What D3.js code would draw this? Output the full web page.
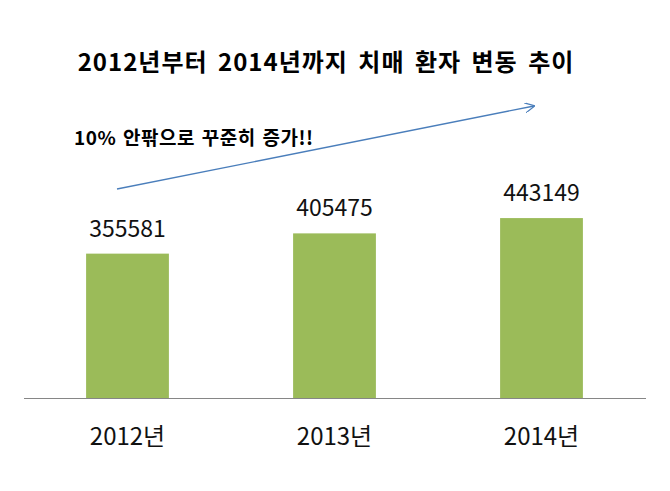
<!DOCTYPE html>
<html>
<head>
<meta charset="utf-8">
<script src="https://cdn.jsdelivr.net/npm/d3@7"></script>
<style>
  body { margin: 0; background: #fff; }
  text { font-family: "Noto Sans CJK KR", "Noto Sans", sans-serif; }
</style>
</head>
<body>
<script>
  // data
  const years = ["2012년", "2013년", "2014년"];
  const patients = [355581, 405475, 443149];
  const title = "2012년부터 2014년까지 치매 환자 변동 추이";
  const note = "10% 안팎으로 꾸준히 증가!!";

  const W = 670, H = 491;
  const svg = d3.select("body").append("svg").attr("width", W).attr("height", H);

  const x = d3.scaleBand().domain(years).range([24, 645])
      .paddingInner(0.6).paddingOuter(0.3);
  const y = d3.scaleLinear().domain([0, 500000]).range([398, 195]);

  // title
  svg.append("text")
      .attr("x", 326).attr("y", 71)
      .attr("text-anchor", "middle")
      .style("font-size", "24px").style("font-weight", "bold")
      .style("letter-spacing", "1px").style("word-spacing", "4px")
      .text(title);

  // bars
  svg.selectAll("rect.bar")
    .data(years)
    .enter().append("rect")
      .attr("class", "bar")
      .attr("x", d => x(d))
      .attr("width", x.bandwidth())
      .attr("y", (d, i) => y(patients[i]))
      .attr("height", (d, i) => y(0) - y(patients[i]))
      .style("fill", "#9BBB59");

  // value labels
  svg.selectAll("text.val")
    .data(years)
    .enter().append("text")
      .attr("class", "val")
      .attr("x", d => x(d) + x.bandwidth() / 2)
      .attr("y", (d, i) => y(patients[i]) - 17)
      .attr("text-anchor", "middle")
      .style("font-size", "23px")
      .style("fill", "#111")
      .text((d, i) => patients[i]);

  // x axis
  const xAxis = svg.append("g")
      .attr("transform", "translate(0," + y(0) + ")")
      .call(d3.axisBottom(x).tickSize(0).tickPadding(30));
  xAxis.select(".domain").attr("d", "M24,0.5H646").style("stroke", "#868686");
  xAxis.selectAll(".tick text")
      .style("font-size", "24px")
      .style("font-family", "\"Noto Sans CJK KR\", sans-serif")
      .style("fill", "#111");

  // trend arrow + note
  svg.append("defs").append("marker")
      .attr("id", "head")
      .attr("viewBox", "0 0 10 10")
      .attr("refX", 9).attr("refY", 5)
      .attr("markerWidth", 10).attr("markerHeight", 10)
      .attr("markerUnits", "userSpaceOnUse")
      .attr("orient", "auto")
    .append("path")
      .attr("d", "M0,0L10,5L0,10")
      .style("fill", "none").style("stroke", "#4A7EBB").style("stroke-width", 1.2);

  svg.append("line")
      .attr("x1", 117).attr("y1", 189)
      .attr("x2", 534).attr("y2", 106)
      .style("stroke", "#4A7EBB").style("stroke-width", 1.3)
      .attr("marker-end", "url(#head)");

  svg.append("text")
      .attr("x", 74).attr("y", 145)
      .style("font-size", "19px").style("font-weight", "bold")
      .style("letter-spacing", "0.5px").style("word-spacing", "2px")
      .text(note);
</script>
</body>
</html>
